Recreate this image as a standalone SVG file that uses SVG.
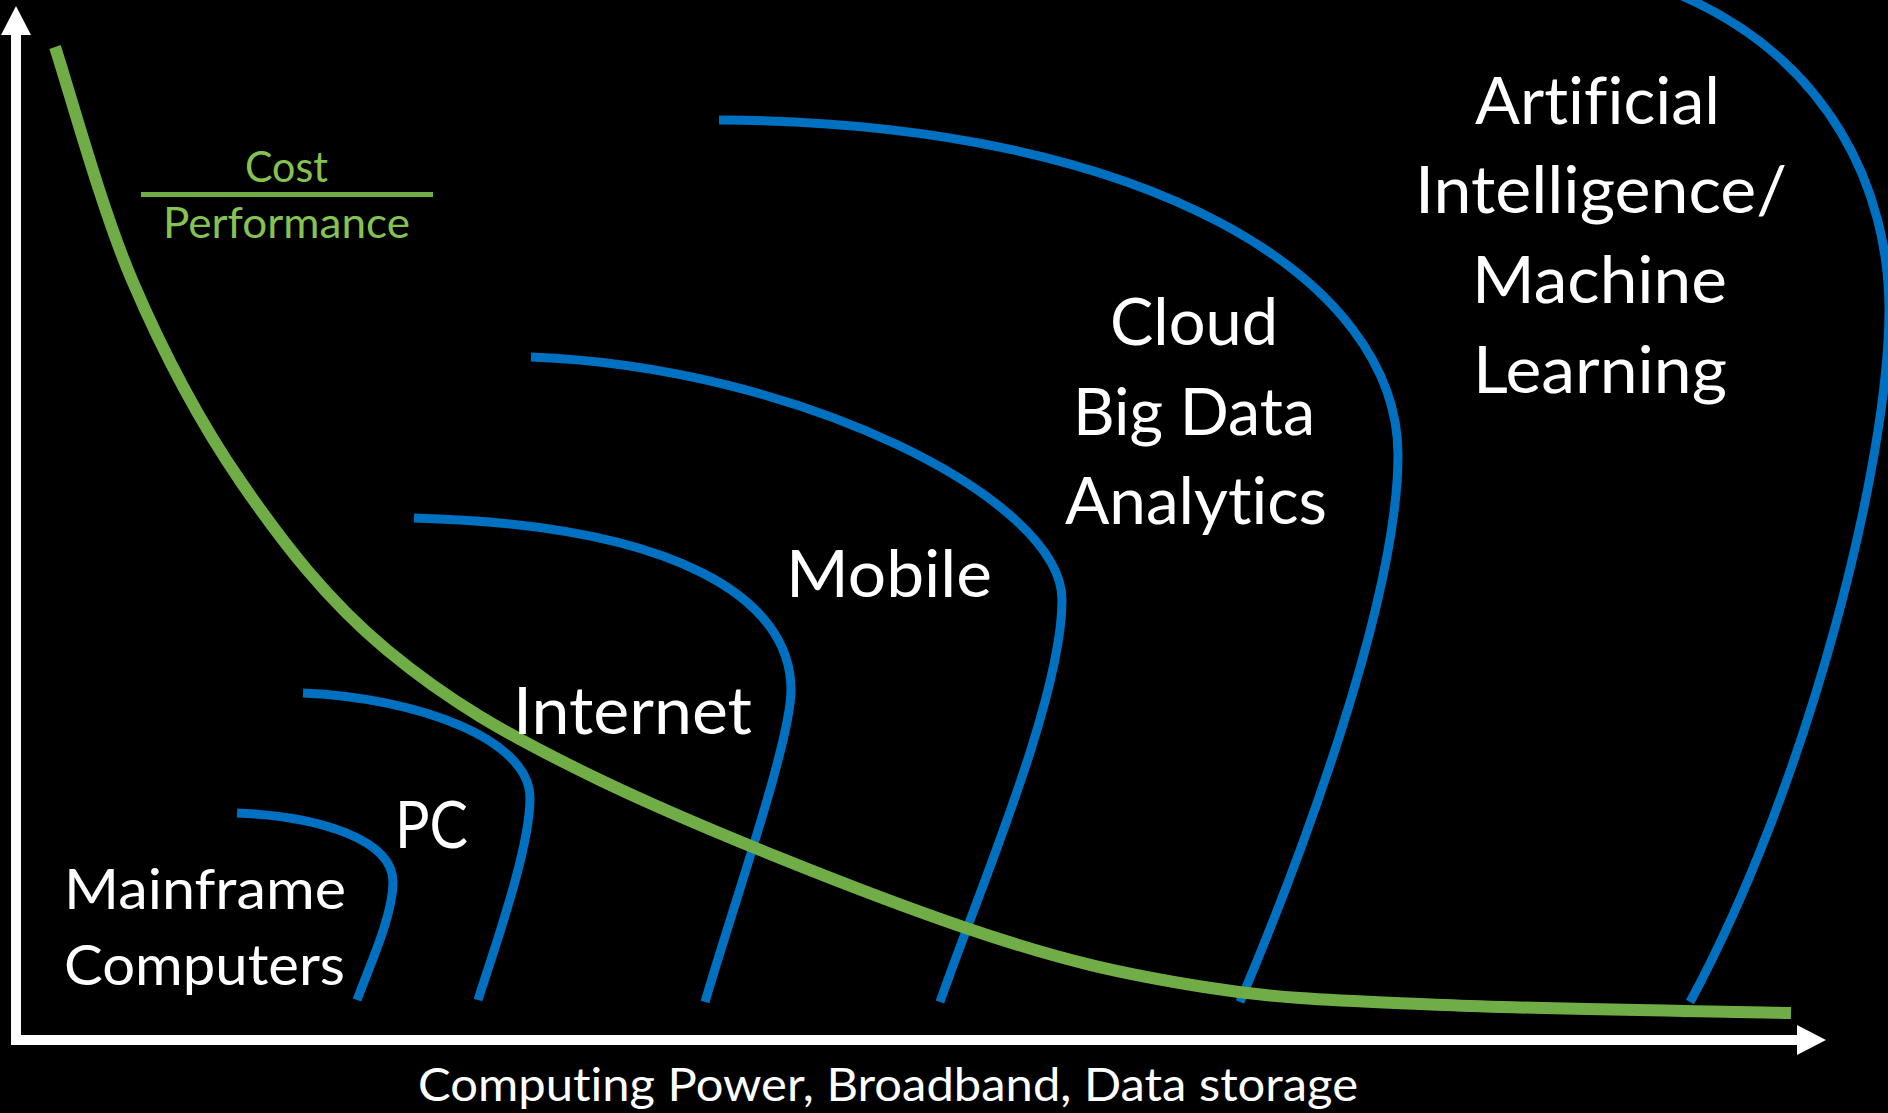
<svg xmlns="http://www.w3.org/2000/svg" width="1888" height="1113" viewBox="0 0 1888 1113">
  <style>
    .bg { fill: #000000; }
    .axis { stroke: #FFFFFF; stroke-width: 10; fill: none; }
    .era { stroke: #0070C0; stroke-width: 9; fill: none; stroke-linecap: butt; }
    .cost { stroke: #70AD47; stroke-width: 12; fill: none; }
    text { font-variant-ligatures: none; font-feature-settings: "liga" 0, "clig" 0, "dlig" 0; }
    .lbl { font-family: Lato, "Open Sans", "Liberation Sans", sans-serif; fill: #FFFFFF; }
    .big { font-size: 66px; }
    .mid { font-size: 56.5px; }
    .axislbl { font-size: 47px; }
    .ratio { font-family: Lato, "Open Sans", "Liberation Sans", sans-serif; font-size: 42px; fill: #86C24F; }
  </style>
  <defs>
    <marker id="arrow" markerUnits="userSpaceOnUse" markerWidth="29" markerHeight="30" viewBox="0 0 29 30" refX="0" refY="15" orient="auto">
      <path d="M0,0 L29,15 L0,30 Z" fill="#FFFFFF"/>
    </marker>
  </defs>
  <rect class="bg" x="0" y="0" width="1888" height="1113"/>

  <g id="connectors">
    <g id="axes">
      <line class="axis" x1="16" y1="1045" x2="16" y2="35" marker-end="url(#arrow)"/>
      <line class="axis" x1="11" y1="1040" x2="1797" y2="1040" marker-end="url(#arrow)"/>
    </g>
    <path id="curve-mainframe" class="era" d="M237,813 C320,816 393,840 393,882 C393,915 370,965 357,1000"/>
    <path id="curve-pc" class="era" d="M303,693 C420,698 530,740 530,798 C530,850 492,955 478,1000"/>
    <path id="curve-internet" class="era" d="M414,518 C680,525 791,600 791,690 C791,740 735,900 705,1002"/>
    <path id="curve-mobile" class="era" d="M531,357 C800,367 1062,500 1062,600 C1062,700 975,900 940,1002"/>
    <path id="curve-cloud" class="era" d="M719,120 C1150,122 1398,280 1398,455 C1398,600 1300,860 1240,1002"/>
    <path id="curve-ai" class="era" d="M1680,-5 C1830,60 1889,190 1889,310 C1889,460 1810,780 1690,1002"/>
    <path id="curve-cost" class="cost" d="M55,47 C68,86 101,207.5 132,280 C163,352.5 198.5,420.3 241,482 C283.5,543.7 327.2,600.3 387,650 C446.8,699.7 504,733.8 600,780 C696,826.2 862.3,892.5 963,927 C1063.7,961.5 1123.7,974 1204,987 C1284.3,1000 1347.2,1000.7 1445,1005 C1542.8,1009.3 1733.3,1011.7 1791,1013"/>
  </g>

  <g id="node-cost-performance">
    <text class="ratio" x="245" y="182" textLength="83" lengthAdjust="spacingAndGlyphs">Cost</text>
    <line x1="141" y1="194.5" x2="433" y2="194.5" stroke="#70AD47" stroke-width="5"/>
    <text class="ratio" x="163" y="238" textLength="247" lengthAdjust="spacingAndGlyphs">Performance</text>
  </g>

  <g id="node-mainframe">
    <text class="lbl mid" x="64" y="909" textLength="282" lengthAdjust="spacingAndGlyphs">Mainframe</text>
    <text class="lbl mid" x="64" y="985" textLength="281" lengthAdjust="spacingAndGlyphs">Computers</text>
  </g>

  <g id="node-pc">
    <text class="lbl big" x="395" y="848" textLength="73" lengthAdjust="spacingAndGlyphs">PC</text>
  </g>

  <g id="node-internet">
    <text class="lbl big" x="513" y="734" textLength="239" lengthAdjust="spacingAndGlyphs">Internet</text>
  </g>

  <g id="node-mobile">
    <text class="lbl big" x="786" y="597" textLength="206" lengthAdjust="spacingAndGlyphs">Mobile</text>
  </g>

  <g id="node-cloud">
    <text class="lbl big" x="1110" y="345" textLength="168" lengthAdjust="spacingAndGlyphs">Cloud</text>
    <text class="lbl big" x="1073" y="435" textLength="242" lengthAdjust="spacingAndGlyphs">Big Data</text>
    <text class="lbl big" x="1065" y="524" textLength="262" lengthAdjust="spacingAndGlyphs">Analytics</text>
  </g>

  <g id="node-ai">
    <text class="lbl big" x="1475" y="124" textLength="245" lengthAdjust="spacingAndGlyphs">Artificial</text>
    <text class="lbl big" x="1415" y="213" textLength="372" lengthAdjust="spacingAndGlyphs">Intelligence/</text>
    <text class="lbl big" x="1472" y="303" textLength="255" lengthAdjust="spacingAndGlyphs">Machine</text>
    <text class="lbl big" x="1473" y="393" textLength="254" lengthAdjust="spacingAndGlyphs">Learning</text>
  </g>

  <g id="node-x-axis-label">
    <text class="lbl axislbl" x="418" y="1101" textLength="940" lengthAdjust="spacingAndGlyphs">Computing Power, Broadband, Data storage</text>
  </g>
</svg>
